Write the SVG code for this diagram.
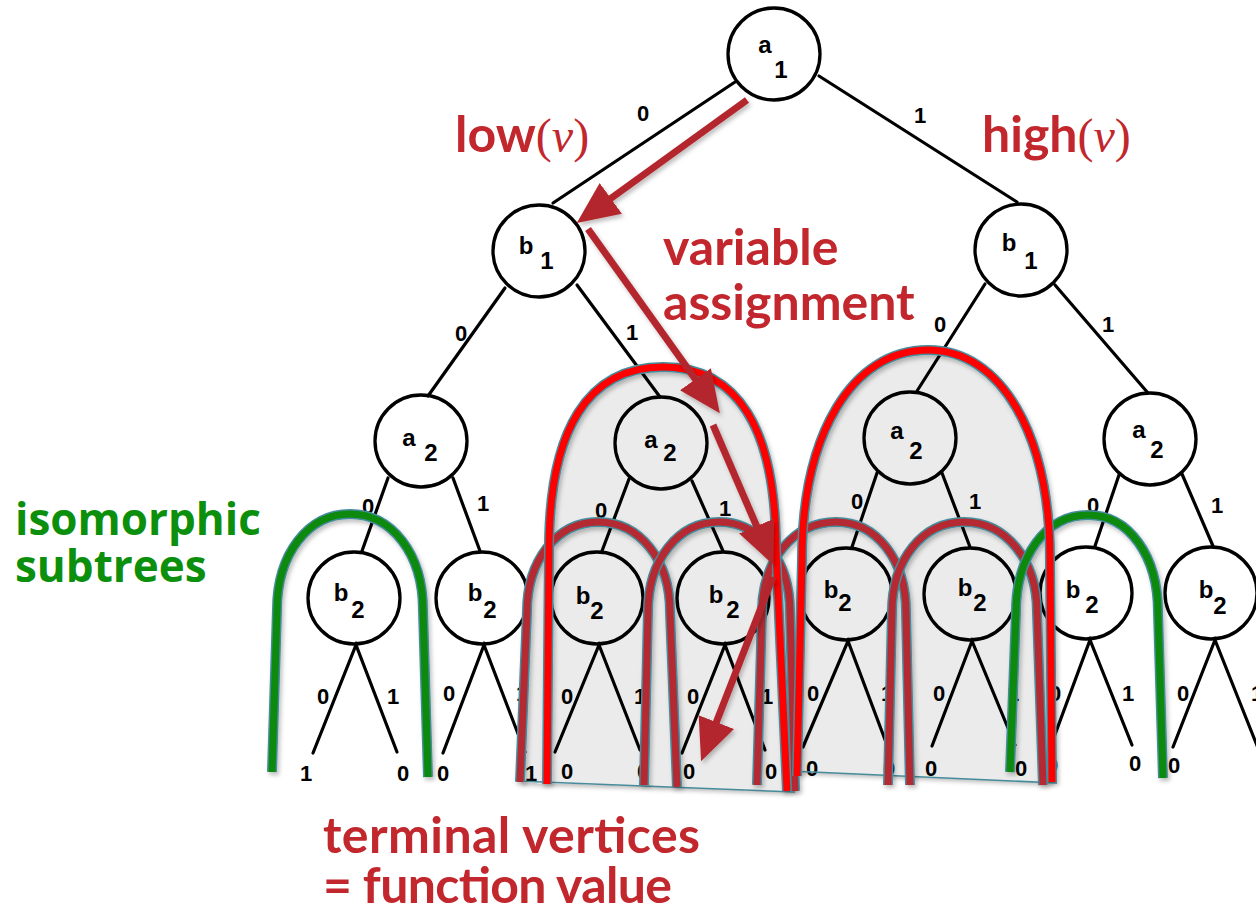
<svg xmlns="http://www.w3.org/2000/svg" xmlns:xlink="http://www.w3.org/1999/xlink" width="1256" height="916" viewBox="0 0 1256 916">
<style>
.e{stroke:#000;stroke-width:3.2;fill:none;stroke-linecap:round}
.n{fill:none;stroke:#000;stroke-width:3.3}
.t{font-family:"Liberation Sans",Arial,sans-serif;font-weight:bold;font-size:22px;text-anchor:middle;fill:#000}
.nt{font-size:24px}
.big{font-family:Lato,"Open Sans",sans-serif;font-weight:700;font-size:50px;fill:#c1272d}
.m{font-family:"Liberation Serif","Times New Roman",serif;font-weight:normal;font-size:48px}
.g{font-family:"Open Sans",sans-serif;font-weight:700;font-size:44px;fill:#0c8f0c}
.ol{fill:none;stroke:#468c9c;stroke-width:10}
.rd{fill:none;stroke:#ff0000;stroke-width:7}
.dr{fill:none;stroke:#b52b30;stroke-width:7}
.gr{fill:none;stroke:#0a8a0a;stroke-width:7}
.fl{fill:#ebebeb;stroke:none}
.bl{stroke:#468c9c;stroke-width:1.6;fill:none}
.ar{stroke:#b3282d;stroke-width:7;fill:none;marker-end:url(#ah)}
</style>
<defs>
<filter id="sh" x="-20%" y="-20%" width="140%" height="140%">
<feDropShadow dx="2" dy="3" stdDeviation="2" flood-color="#000" flood-opacity="0.25"/>
</filter>
<marker id="ah" markerUnits="userSpaceOnUse" markerWidth="42" markerHeight="38" viewBox="0 0 42 38" refX="1" refY="19" orient="auto">
<path d="M0,0 L42,19 L0,38 Z" fill="#b3282d"/>
</marker>
<path id="pg1" d="M272,772 L277,610 C277,554 308,514 350,514 C392,514 423,554 423,610 L428,777"/>
<path id="pg2" d="M1010,772 L1016,612 C1016,556 1046,515 1088,515 C1129,515 1158,556 1158,612 L1163,778"/>
<path id="pd1" d="M520,782 L527,612 C527,560 557,522 598,522 C640,522 670,560 670,612 L677,787"/>
<path id="pd2" d="M644,785 L648,612 C648,560 678,522 719,522 C760,522 790,560 790,612 L795,791"/>
<path id="pd3" d="M757,785 L762,612 C762,560 794,522 836,522 C877,522 906,560 906,612 L910,785"/>
<path id="pd4" d="M888,785 L892,612 C892,560 922,522 964,522 C1006,522 1037,560 1037,612 L1043,785"/>
<path id="pr1" d="M547,784 L549,550 C549,429 588,367 663,367 C738,367 776,429 776,550 L787,791"/>
<path id="pr2" d="M797,776 L802,560 C802,434 852,350 928,350 C1001,350 1050,434 1050,560 L1052,782"/>
</defs>
<rect width="1256" height="916" fill="#fff"/>

<g id="shading" filter="url(#sh)">
<path class="fl" d="M520,782 L527,612 C527,560 557,522 598,522 C640,522 670,560 670,612 L677,787 Z"/>
<path class="fl" d="M547,784 L549,550 C549,429 588,367 663,367 C738,367 776,429 776,550 L787,791 L795,792 L517,781 Z"/>
<path class="fl" d="M644,785 L648,612 C648,560 678,522 719,522 C760,522 790,560 790,612 L795,791 Z"/>
<path class="fl" d="M797,776 L802,560 C802,434 852,350 928,350 C1001,350 1050,434 1050,560 L1052,782 L1057,783 L790,771 Z"/>
</g>

<g id="connectors">
<line class="e" x1="735" y1="82" x2="553" y2="203"/>
<line class="e" x1="819" y1="76" x2="1017" y2="202"/>
<line class="e" x1="505" y1="288" x2="428" y2="396"/>
<line class="e" x1="577" y1="285" x2="660" y2="397"/>
<line class="e" x1="985" y1="284" x2="917" y2="391"/>
<line class="e" x1="1055" y1="285" x2="1148" y2="393"/>
<line class="e" x1="388" y1="478" x2="362" y2="551"/>
<line class="e" x1="453" y1="478" x2="480" y2="551"/>
<line class="e" x1="629" y1="479" x2="602" y2="551"/>
<line class="e" x1="692" y1="481" x2="723" y2="551"/>
<line class="e" x1="877" y1="473" x2="852" y2="547"/>
<line class="e" x1="942" y1="473" x2="970" y2="547"/>
<line class="e" x1="1119" y1="475" x2="1095" y2="546"/>
<line class="e" x1="1182" y1="474" x2="1213" y2="546"/>
<path class="e" d="M313,753 L356,645 L397,752"/>
<path class="e" d="M443,753 L484,645 L525,752"/>
<path class="e" d="M555,752 L599,645 L640,750"/>
<path class="e" d="M682,753 L725,645 L765,750"/>
<path class="e" d="M803,747 L848,641 L887,745"/>
<path class="e" d="M932,746 L972,641 L1015,745"/>
<path class="e" d="M1050,748 L1090,640 L1132,745"/>
<path class="e" d="M1173,747 L1215,640 L1258,748"/>
</g>

<g id="edge-labels" class="t">
<text x="643" y="121">0</text><text x="920" y="123">1</text>
<text x="461" y="341">0</text><text x="632" y="340">1</text>
<text x="940" y="332">0</text><text x="1108" y="332">1</text>
<text x="368" y="514">0</text><text x="483" y="511">1</text>
<text x="601" y="518">0</text><text x="725" y="516">1</text>
<text x="857" y="509">0</text><text x="975" y="509">1</text>
<text x="1093" y="513">0</text><text x="1217" y="513">1</text>
<text x="323" y="704">0</text><text x="393" y="704">1</text>
<text x="449" y="701">0</text><text x="522" y="701">1</text>
<text x="567" y="704">0</text><text x="640" y="704">1</text>
<text x="693" y="704">0</text><text x="767" y="704">1</text>
<text x="813" y="701">0</text><text x="887" y="701">1</text>
<text x="939" y="701">0</text><text x="1013" y="701">1</text>
<text x="1055" y="701">0</text><text x="1128" y="701">1</text>
<text x="1183" y="701">0</text><text x="1257" y="701">1</text>
</g>

<g id="leaves" class="t">
<text x="306" y="781">1</text><text x="403" y="781">0</text>
<text x="443" y="781">0</text><text x="531" y="781">1</text>
<text x="567" y="779">0</text><text x="643" y="779">0</text>
<text x="689" y="779">0</text><text x="771" y="779">0</text>
<text x="812" y="776">0</text><text x="889" y="776">0</text>
<text x="931" y="776">0</text><text x="1021" y="776">0</text>
<text x="1052" y="773">0</text><text x="1135" y="771">0</text>
<text x="1174" y="773">0</text>
</g>

<g id="n-a1"><circle class="n" cx="774" cy="54" r="46"/><text class="t nt" x="765" y="53">a</text><text class="t nt" x="781" y="78">1</text></g>
<g id="n-b1-left"><circle class="n" cx="539" cy="251" r="46"/><text class="t nt" x="526" y="254">b</text><text class="t nt" x="547" y="269">1</text></g>
<g id="n-b1-right"><circle class="n" cx="1021" cy="250" r="46"/><text class="t nt" x="1009" y="251">b</text><text class="t nt" x="1031" y="269">1</text></g>
<g id="n-a2-1"><circle class="n" cx="421" cy="441" r="46"/><text class="t nt" x="409" y="446">a</text><text class="t nt" x="431" y="461">2</text></g>
<g id="n-a2-2"><circle class="n" cx="661" cy="443" r="46"/><text class="t nt" x="651" y="448">a</text><text class="t nt" x="670" y="461">2</text></g>
<g id="n-a2-3"><circle class="n" cx="910" cy="438" r="46"/><text class="t nt" x="897" y="439">a</text><text class="t nt" x="916" y="459">2</text></g>
<g id="n-a2-4"><circle class="n" cx="1150" cy="439" r="46"/><text class="t nt" x="1139" y="438">a</text><text class="t nt" x="1157" y="458">2</text></g>
<g id="n-b2-1"><circle class="n" cx="354" cy="598" r="46"/><text class="t nt" x="341" y="601">b</text><text class="t nt" x="358" y="618">2</text></g>
<g id="n-b2-2"><circle class="n" cx="482" cy="598" r="46"/><text class="t nt" x="475" y="601">b</text><text class="t nt" x="490" y="618">2</text></g>
<g id="n-b2-3"><circle class="n" cx="597" cy="598" r="46"/><text class="t nt" x="583" y="604">b</text><text class="t nt" x="597" y="619">2</text></g>
<g id="n-b2-4"><circle class="n" cx="723" cy="598" r="46"/><text class="t nt" x="716" y="603">b</text><text class="t nt" x="733" y="618">2</text></g>
<g id="n-b2-5"><circle class="n" cx="846" cy="594" r="46"/><text class="t nt" x="831" y="598">b</text><text class="t nt" x="845" y="611">2</text></g>
<g id="n-b2-6"><circle class="n" cx="970" cy="594" r="46"/><text class="t nt" x="965" y="596">b</text><text class="t nt" x="980" y="611">2</text></g>
<g id="n-b2-7"><circle class="n" cx="1086" cy="593" r="46"/><text class="t nt" x="1073" y="598">b</text><text class="t nt" x="1092" y="613">2</text></g>
<g id="n-b2-8"><circle class="n" cx="1211" cy="593" r="46"/><text class="t nt" x="1206" y="598">b</text><text class="t nt" x="1220" y="614">2</text></g>

<g id="bottom-edges">
<line class="bl" x1="517" y1="781" x2="795" y2="792"/>
<line class="bl" x1="790" y1="771" x2="1057" y2="783"/>
</g>

<g id="arcs" filter="url(#sh)">
<use xlink:href="#pd1" class="ol"/><use xlink:href="#pd1" class="dr"/>
<use xlink:href="#pd2" class="ol"/><use xlink:href="#pd2" class="dr"/>
<use xlink:href="#pd3" class="ol"/><use xlink:href="#pd3" class="dr"/>
<use xlink:href="#pd4" class="ol"/><use xlink:href="#pd4" class="dr"/>
<use xlink:href="#pg1" class="ol"/><use xlink:href="#pg1" class="gr"/>
<use xlink:href="#pg2" class="ol"/><use xlink:href="#pg2" class="gr"/>
<use xlink:href="#pr1" class="ol"/><use xlink:href="#pr1" class="rd"/>
<use xlink:href="#pr2" class="ol"/><use xlink:href="#pr2" class="rd"/>
</g>

<g id="path-arrows" filter="url(#sh)">
<line class="ar" x1="747" y1="100" x2="610" y2="199"/>
<line class="ar" x1="588" y1="229" x2="696" y2="380"/>
<line class="ar" x1="713" y1="425" x2="757" y2="527"/>
<line class="ar" x1="773" y1="577" x2="716" y2="723"/>
</g>

<g id="labels">
<text class="big" x="455" y="152">low<tspan class="m">(</tspan><tspan class="m" font-style="italic">v</tspan><tspan class="m">)</tspan></text>
<text class="big" x="982" y="152">high<tspan class="m">(</tspan><tspan class="m" font-style="italic">v</tspan><tspan class="m">)</tspan></text>
<text class="big" x="663" y="265">variable</text>
<text class="big" x="663" y="320">assignment</text>
<text class="g" x="15" y="535">isomorphic</text>
<text class="g" x="15" y="582">subtrees</text>
<text class="big" x="323" y="853" textLength="377" lengthAdjust="spacing">terminal vertices</text>
<text class="big" x="323" y="903" textLength="349" lengthAdjust="spacing">= function value</text>
</g>
</svg>
